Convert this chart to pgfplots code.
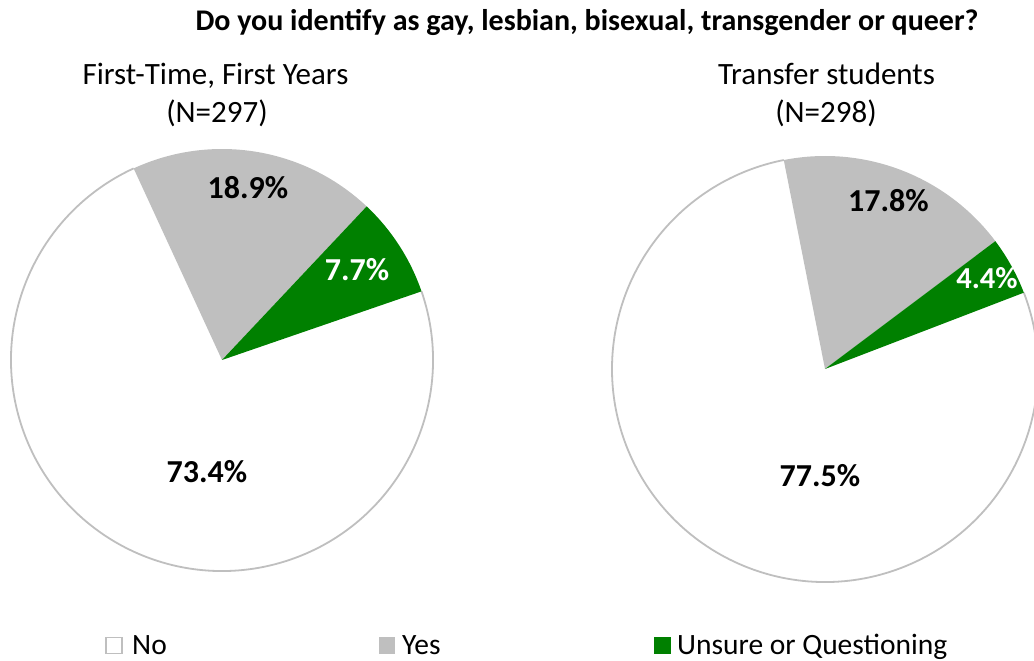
\documentclass[border=0pt]{standalone}
\usepackage{pgfplots}
\usepackage{pgfplotstable}
\pgfplotsset{compat=1.18}
\usetikzlibrary{calc}
\usepackage{fontspec}
\setmainfont{Carlito}
\definecolor{pgray}{HTML}{BFBFBF}
\definecolor{pgreen}{HTML}{008000}
\definecolor{bgray}{HTML}{BFBFBF}

\pgfplotstableread{
cat val
No 73.4
Yes 18.9
Unsure 7.7
}\leftdata
\pgfplotstableread{
cat val
No 77.5
Yes 17.8
Unsure 4.4
}\rightdata

\begin{document}
\begin{tikzpicture}
\useasboundingbox (0,0) rectangle (1034bp,661bp);
% left pie angles
\pgfplotstablegetelem{0}{val}\of\leftdata \let\La\pgfplotsretval
\pgfplotstablegetelem{1}{val}\of\leftdata \let\Lb\pgfplotsretval
\pgfplotstablegetelem{2}{val}\of\leftdata \let\Lc\pgfplotsretval
\pgfmathsetmacro\Ls{\La+\Lb+\Lc}
\pgfmathsetmacro\LA{19}
\pgfmathsetmacro\LB{\LA-\La/\Ls*360}
\pgfmathsetmacro\LC{\LB-\Lb/\Ls*360}
\pgfmathsetmacro\LD{\LC-\Lc/\Ls*360}
% right pie angles
\pgfplotstablegetelem{0}{val}\of\rightdata \let\Ra\pgfplotsretval
\pgfplotstablegetelem{1}{val}\of\rightdata \let\Rb\pgfplotsretval
\pgfplotstablegetelem{2}{val}\of\rightdata \let\Rc\pgfplotsretval
\pgfmathsetmacro\Rs{\Ra+\Rb+\Rc}
\pgfmathsetmacro\RA{21}
\pgfmathsetmacro\RB{\RA-\Ra/\Rs*360}
\pgfmathsetmacro\RC{\RB-\Rb/\Rs*360}
\pgfmathsetmacro\RD{\RC-\Rc/\Rs*360}
\begin{axis}[
  at={(0,0)}, anchor=south west,
  x=1bp, y=1bp, xmin=0, xmax=1034, ymin=0, ymax=661,
  scale only axis, hide axis, clip=true,
]
\addplot[draw=none] coordinates {(0,0)};
% left pie
\fill[white] (axis cs:222,301) -- ++(\LA:211bp) arc[start angle=\LA, end angle=\LB, radius=211bp] -- cycle;
\draw[bgray, line width=1.8bp] ($(axis cs:222,301)+(\LA:211bp)$) arc[start angle=\LA, end angle=\LB, radius=211bp];
\fill[pgray] (axis cs:222,301) -- ++(\LB:211bp) arc[start angle=\LB, end angle=\LC, radius=211bp] -- cycle;
\fill[pgreen] (axis cs:222,301) -- ++(\LC:211bp) arc[start angle=\LC, end angle=\LD, radius=211bp] -- cycle;
% right pie
\fill[white] (axis cs:825,292) -- ++(\RA:213bp) arc[start angle=\RA, end angle=\RB, radius=213bp] -- cycle;
\draw[bgray, line width=1.8bp] ($(axis cs:825,292)+(\RA:213bp)$) arc[start angle=\RA, end angle=\RB, radius=213bp];
\fill[pgray] (axis cs:825,292) -- ++(\RB:213bp) arc[start angle=\RB, end angle=\RC, radius=213bp] -- cycle;
\fill[pgreen] (axis cs:825,292) -- ++(\RC:213bp) arc[start angle=\RC, end angle=\RD, radius=213bp] -- cycle;
% labels
\node[font=\bfseries\fontsize{32bp}{36bp}\selectfont] at (axis cs:207,189.5) {73.4\%};
\node[font=\bfseries\fontsize{32bp}{36bp}\selectfont] at (axis cs:248,473.5) {18.9\%};
\node[font=\bfseries\fontsize{32bp}{36bp}\selectfont, white] at (axis cs:357,391.5) {7.7\%};
\node[font=\bfseries\fontsize{32bp}{36bp}\selectfont] at (axis cs:820,185) {77.5\%};
\node[font=\bfseries\fontsize{32bp}{36bp}\selectfont] at (axis cs:888.5,460) {17.8\%};
\node[font=\bfseries\fontsize{30.5bp}{36bp}\selectfont, white] at (axis cs:987,382.5) {4.4\%};
\end{axis}
% titles
\node[anchor=base, inner sep=0pt, font=\bfseries\fontsize{30bp}{36bp}\selectfont] at (587bp,630bp) {Do you identify as gay, lesbian, bisexual, transgender or queer?};
\node[anchor=base, inner sep=0pt, font=\fontsize{31bp}{36bp}\selectfont] at (215.5bp,576bp) {First-Time, First Years};
\node[anchor=base, inner sep=0pt, font=\fontsize{31bp}{36bp}\selectfont] at (217bp,538bp) {(N=297)};
\node[anchor=base, inner sep=0pt, font=\fontsize{31bp}{36bp}\selectfont] at (826.5bp,576bp) {Transfer students};
\node[anchor=base, inner sep=0pt, font=\fontsize{31bp}{36bp}\selectfont] at (826bp,538bp) {(N=298)};
% legend
\draw[bgray, fill=white, line width=1.5bp] (106bp,7.5bp) rectangle (122bp,23.5bp);
\node[anchor=base west, font=\fontsize{29.5bp}{34bp}\selectfont, inner sep=0pt] at (132bp,6.5bp) {No};
\fill[pgray] (379bp,7bp) rectangle (395bp,24bp);
\node[anchor=base west, font=\fontsize{29.5bp}{34bp}\selectfont, inner sep=0pt] at (402bp,6.5bp) {Yes};
\fill[pgreen] (654bp,7bp) rectangle (671bp,24bp);
\node[anchor=base west, font=\fontsize{29.5bp}{34bp}\selectfont, inner sep=0pt] at (677bp,6.5bp) {Unsure or Questioning};
\end{tikzpicture}
\end{document}
